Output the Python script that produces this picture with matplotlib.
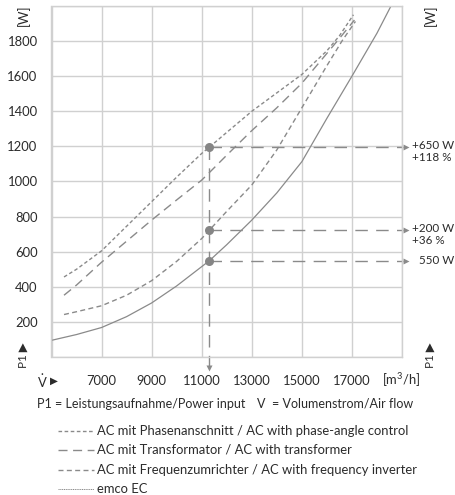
import matplotlib
matplotlib.use('agg')
import matplotlib.pyplot as plt
from matplotlib.lines import Line2D

plt.rcParams['font.family'] = ['Lato', 'DejaVu Sans']
plt.rcParams['mathtext.fontset'] = 'custom'
plt.rcParams['mathtext.rm'] = 'Lato'
plt.rcParams['mathtext.it'] = 'Lato:italic'
plt.rcParams['lines.scale_dashes'] = False

# curves: volume flow [m3/h] -> power input [W]
phase_x = [5500, 6000, 7000, 8000, 9000, 10000, 11000, 11300, 12000, 13000, 14000, 15000, 16000, 16500, 17060]
phase_y = [456, 500, 605, 745, 885, 1025, 1160, 1195, 1280, 1400, 1505, 1610, 1745, 1830, 1950]

trafo_x = [5500, 6000, 7000, 8000, 9000, 10000, 11000, 11300, 12000, 13000, 14000, 15000, 16000, 16500, 17100]
trafo_y = [352, 410, 540, 660, 780, 895, 1008, 1050, 1150, 1290, 1420, 1560, 1730, 1815, 1920]

inv_x = [5500, 6000, 7000, 8000, 9000, 10000, 11000, 11300, 12000, 13000, 14000, 15000, 16000, 16600, 17140]
inv_y = [242, 258, 292, 352, 435, 545, 675, 722, 830, 980, 1180, 1420, 1660, 1800, 1912]

ec_x = [5000, 6000, 7000, 8000, 9000, 10000, 11000, 11300, 12000, 13000, 14000, 15000, 16000, 17000, 18000, 18560]
ec_y = [95, 128, 168, 230, 308, 405, 515, 548, 640, 780, 935, 1113, 1360, 1600, 1845, 2000]

# operating point and the differences written at the right
op_x = 11300
op_y = [1195, 722, 548]
op_labels = [('+650 W', '+118 %'), ('+200 W', '+36 %'), ('550 W', None)]

x_ticks = [5000, 7000, 9000, 11000, 13000, 15000, 17000, 19000]
x_labels = ['', '7000', '9000', '11000', '13000', '15000', '17000', '']
y_ticks = list(range(0, 2001, 200))
y_labels = [''] + [str(v) for v in y_ticks[1:-1]] + ['']

legend_labels = ['AC mit Phasenanschnitt / AC with phase-angle control',
                 'AC mit Transformator / AC with transformer',
                 'AC mit Frequenzumrichter / AC with frequency inverter',
                 'emco EC']

W, H = 456, 495
gray = '#8a8a8a'
txt = '#2b2b2b'
fs = 9.4
fs_r = 8.4
fs_c = 9.0

styles = [(0, (2.6, 1.8)), (0, (6.5, 4)), (0, (3.6, 2.4)), '-']


def fx(x):
    return x / W


def fy(y):
    return 1 - y / H


fig = plt.figure(figsize=(W / 100, H / 100), dpi=100)
ax = fig.add_axes([fx(51.5), fy(357), (402 - 51.5) / W, (357 - 6) / H])
ax.set_xlim(5000, 19000)
ax.set_ylim(0, 2000)
ax.set_xticks(x_ticks)
ax.set_xticklabels(x_labels)
ax.set_yticks(y_ticks)
ax.set_yticklabels(y_labels)
ax.tick_params(length=0, labelsize=fs, colors=txt)
ax.tick_params(axis='x', pad=13)
ax.tick_params(axis='y', pad=10)
ax.grid(True, color='#d0d0d0', lw=1.0)
for s in ax.spines.values():
    s.set_color('#d0d0d0')
    s.set_linewidth(1.0)
ax.set_axisbelow(True)

ax.plot(phase_x, phase_y, color=gray, lw=1.0, linestyle=styles[0])
ax.plot(trafo_x, trafo_y, color=gray, lw=1.0, linestyle=styles[1])
ax.plot(inv_x, inv_y, color=gray, lw=1.0, linestyle=styles[2])
ax.plot(ec_x, ec_y, color=gray, lw=0.9, linestyle=styles[3])

# reference lines from the operating points
ref_dash = (0, (9, 6))
x_end = 19050
for y in op_y:
    ax.plot([op_x, x_end], [y, y], color=gray, lw=1.0, linestyle=ref_dash, clip_on=False)
    ax.plot([x_end + 100], [y], marker='>', ms=5, color=gray, clip_on=False, mec='none')
ax.plot([op_x, op_x], [op_y[0], -50], color=gray, lw=1.0, linestyle=ref_dash, clip_on=False)
ax.plot([op_x], [-60], marker='v', ms=5, color=gray, clip_on=False, mec='none')
ax.plot([op_x] * 3, op_y, 'o', ms=6.5, color='#858585', mec='none', zorder=5)

for y, (a, b) in zip(op_y, op_labels):
    if b is None:
        ax.annotate(a, (19000, y), xycoords='data', xytext=(12, 0), textcoords='offset points',
                    fontsize=fs_r, color=txt, va='center', ha='left', annotation_clip=False)
    else:
        ax.annotate(a, (19000, y), xycoords='data', xytext=(7.5, 1.5), textcoords='offset points',
                    fontsize=fs_r, color=txt, va='center', ha='left', annotation_clip=False)
        ax.annotate(b, (19000, y), xycoords='data', xytext=(7.5, -7.5), textcoords='offset points',
                    fontsize=fs_r, color=txt, va='center', ha='left', annotation_clip=False)

# axis names
fig.text(fx(23), fy(15), '[W]', rotation=90, fontsize=fs, color=txt, ha='center', va='center')
fig.text(fx(430), fy(15), '[W]', rotation=90, fontsize=fs, color=txt, ha='center', va='center')
fig.text(fx(23), fy(355), 'P1 \u25B6', rotation=90, fontsize=fs - 1, color=txt, ha='center', va='center')
fig.text(fx(430), fy(355), 'P1 \u25B6', rotation=90, fontsize=fs - 1, color=txt, ha='center', va='center')
fig.text(fx(37), fy(381), r'$\dot{\mathrm{V}}$', fontsize=fs, color=txt, ha='left', va='center')
fig.text(fx(50), fy(381), '\u25B6', fontsize=fs - 2, color=txt, ha='left', va='center')
fig.text(fx(401), fy(380), r'[m$^\mathrm{3}$/h]', fontsize=fs, color=txt, ha='center', va='center')

fig.text(fx(37), fy(404), 'P1 = Leistungsaufnahme/Power input', fontsize=fs_c, color=txt, va='center')
fig.text(fx(257), fy(404), 'V  = Volumenstrom/Air flow', fontsize=fs_c, color=txt, va='center')

rows = [431, 450, 469.5, 489]
for r, lab, ls in zip(rows, legend_labels, styles):
    if ls == '-':
        ls = (0, (0.8, 0.5))
        lw = 0.7
    else:
        lw = 1.0
    fig.add_artist(Line2D([fx(58), fx(94)], [fy(r), fy(r)], color=gray, lw=lw, linestyle=ls))
    fig.text(fx(97), fy(r), lab, fontsize=fs, color=txt, va='center')

fig.savefig('out.png', dpi=100)
